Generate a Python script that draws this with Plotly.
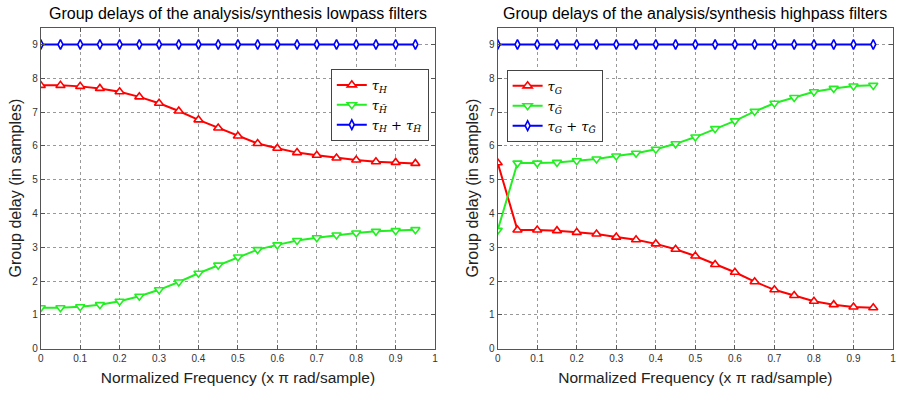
import plotly.graph_objects as go

freq = [0.0, 0.05, 0.1, 0.15, 0.2, 0.25, 0.3, 0.35, 0.4, 0.45, 0.5, 0.55, 0.6, 0.65, 0.7, 0.75, 0.8, 0.85, 0.9, 0.95]

tau_H = [7.79, 7.79, 7.76, 7.70, 7.60, 7.45, 7.26, 7.03, 6.77, 6.53, 6.29, 6.07, 5.93, 5.80, 5.72, 5.64, 5.58, 5.53, 5.51, 5.48]
tau_Ht = [1.21, 1.21, 1.24, 1.30, 1.40, 1.55, 1.74, 1.97, 2.23, 2.47, 2.71, 2.93, 3.07, 3.20, 3.28, 3.36, 3.42, 3.47, 3.49, 3.52]
tau_Hsum = [9.0] * 20

tau_G = [5.50, 3.51, 3.51, 3.49, 3.44, 3.39, 3.30, 3.22, 3.10, 2.94, 2.74, 2.49, 2.26, 1.98, 1.74, 1.57, 1.40, 1.30, 1.23, 1.21]
tau_Gt = [3.50, 5.49, 5.49, 5.51, 5.56, 5.61, 5.70, 5.78, 5.90, 6.06, 6.26, 6.51, 6.74, 7.02, 7.26, 7.43, 7.60, 7.70, 7.77, 7.79]
tau_Gsum = [9.0] * 20

x_ticks = [0, 0.1, 0.2, 0.3, 0.4, 0.5, 0.6, 0.7, 0.8, 0.9, 1.0]
x_labels = ["0", "0.1", "0.2", "0.3", "0.4", "0.5", "0.6", "0.7", "0.8", "0.9", "1"]
y_ticks = list(range(10))

titles = ["Group delays of the analysis/synthesis lowpass filters",
          "Group delays of the analysis/synthesis highpass filters"]
xlabel = "Normalized Frequency (x \u03c0 rad/sample)"
ylabel = "Group delay (in samples)"

names_left = ["<i>\u03c4</i><sub><i>H</i></sub>", "<i>\u03c4</i><sub><i>H\u0303</i></sub>",
              "<i>\u03c4</i><sub><i>H</i></sub> + <i>\u03c4</i><sub><i>H\u0303</i></sub>"]
names_right = ["<i>\u03c4</i><sub><i>G</i></sub>", "<i>\u03c4</i><sub><i>G\u0303</i></sub>",
               "<i>\u03c4</i><sub><i>G</i></sub> + <i>\u03c4</i><sub><i>G\u0303</i></sub>"]

RED = "#ff0000"
GREEN = "#22ee22"
BLUE = "#0000ff"

fig = go.Figure()

def add(series, name, color, symbol, size, xa, ya, legend):
    fig.add_trace(go.Scatter(
        x=freq, y=series, name=name, mode="lines+markers",
        line=dict(color=color, width=2),
        marker=dict(symbol=symbol, size=size, color="white",
                    line=dict(color=color, width=1.6)),
        xaxis=xa, yaxis=ya, legend=legend))

add(tau_H, names_left[0], RED, "triangle-up", 8, "x", "y", "legend")
add(tau_Ht, names_left[1], GREEN, "triangle-down", 8, "x", "y", "legend")
add(tau_Hsum, names_left[2], BLUE, "diamond-tall", 7, "x", "y", "legend")
add(tau_G, names_right[0], RED, "triangle-up", 8, "x2", "y2", "legend2")
add(tau_Gt, names_right[1], GREEN, "triangle-down", 8, "x2", "y2", "legend2")
add(tau_Gsum, names_right[2], BLUE, "diamond-tall", 7, "x2", "y2", "legend2")

font = "Liberation Sans, Arial, sans-serif"

xcommon = dict(range=[0, 1], tickvals=x_ticks, ticktext=x_labels,
               showgrid=True, gridcolor="#999999", griddash="dot", gridwidth=1,
               showline=True, linecolor="#555555", linewidth=1, mirror="ticks",
               ticks="inside", ticklen=4, tickcolor="#555555",
               tickfont=dict(size=10, color="#333333", family=font),
               zeroline=False,
               title=dict(text=xlabel, font=dict(size=15.5, color="#222222", family=font), standoff=9))
ycommon = dict(range=[0, 9.5], tickvals=y_ticks,
               showgrid=True, gridcolor="#999999", griddash="dot", gridwidth=1,
               showline=True, linecolor="#555555", linewidth=1, mirror="ticks",
               ticks="inside", ticklen=4, tickcolor="#555555",
               tickfont=dict(size=10, color="#333333", family=font),
               zeroline=False,
               title=dict(text=ylabel, font=dict(size=16, color="#222222", family=font), standoff=6))

legcommon = dict(bgcolor="white", bordercolor="#444444", borderwidth=1,
                 font=dict(size=13, color="black", family="DejaVu Serif, serif"),
                 xanchor="left", yanchor="top", tracegroupgap=0,
                 itemwidth=30)

fig.update_layout(
    width=900, height=394,
    margin=dict(l=0, r=0, t=0, b=0),
    paper_bgcolor="white", plot_bgcolor="white",
    xaxis=dict(domain=[38/900, 435/900], anchor="y", **xcommon),
    yaxis=dict(domain=[1-354/394, 1-28/394], anchor="x", **ycommon),
    xaxis2=dict(domain=[498/900, 896/900], anchor="y2", **xcommon),
    yaxis2=dict(domain=[1-354/394, 1-28/394], anchor="x2", **ycommon),
    legend=dict(x=330/900, y=1-70/394, xref="paper", yref="paper", **legcommon),
    legend2=dict(x=507/900, y=1-71/394, xref="paper", yref="paper", **legcommon),
    annotations=[
        dict(text=titles[0], x=236.5/900, y=1-14/394, xref="paper", yref="paper",
             showarrow=False, xanchor="center", yanchor="middle",
             font=dict(size=16, color="black", family=font)),
        dict(text=titles[1], x=697/900, y=1-14/394, xref="paper", yref="paper",
             showarrow=False, xanchor="center", yanchor="middle",
             font=dict(size=16, color="black", family=font)),
    ],
)

fig.write_html("out.html")
